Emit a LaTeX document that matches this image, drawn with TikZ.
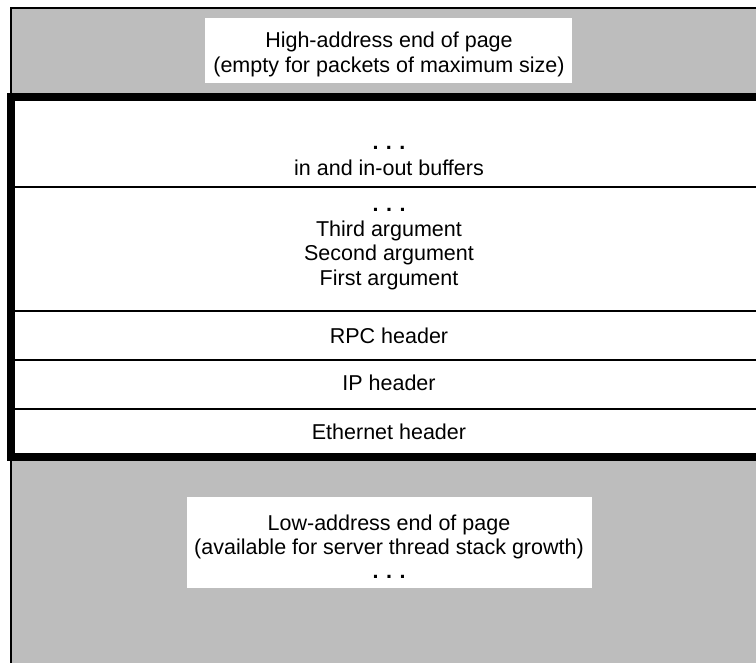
\documentclass[tikz,border=0pt]{standalone}
\usepackage{fontspec}
\setmainfont{Liberation Sans}
\tikzset{
  shade/.style={fill=black!26, draw=none},
  whitebox/.style={fill=white, draw=none, inner sep=0pt},
  label/.style={align=center, inner sep=0pt, font=\fontsize{21.5}{24}\selectfont},
  thin/.style={line width=2pt},
  thick/.style={line width=7.5pt, line join=miter},
}
\newcommand{\threedots}{\textbf{.\hspace{0.35em}.\hspace{0.35em}.}}
\begin{document}
\begin{tikzpicture}[x=1pt,y=-1pt]
\useasboundingbox (0,0) rectangle (756,663);
% shaded page
\fill[shade] (11,8) rectangle (756,663);
% packet area
\fill[white] (11,97) rectangle (756,457);
% white label boxes
\node[whitebox, minimum width=367pt, minimum height=65pt] (hibox) at (388.5,50.5) {};
\node[whitebox, minimum width=405pt, minimum height=91pt] (lobox) at (389.5,542.5) {};
% outer thin border
\coordinate (tl) at (11,8);
\coordinate (tr) at (756,8);
\coordinate (bl) at (11,663);
\draw[thin] (tr) -- (tl) -- (bl);
% row separators
\foreach \yy/\nm in {187/s1,311/s2,360/s3,409/s4}{
  \coordinate (\nm l) at (11,\yy);
  \coordinate (\nm r) at (756,\yy);
  \draw[thin] (\nm l) -- (\nm r);
}
% thick packet frame
\coordinate (p1) at (756,97);
\coordinate (p2) at (11,97);
\coordinate (p3) at (11,457);
\coordinate (p4) at (756,457);
\draw[thick] (p1) -- (p2) -- (p3) -- (p4);
% labels
\node[label, font=\fontsize{21.5}{25}\selectfont] (hi) at (389,54) {High-address end of page\\(empty for packets of maximum size)};
\node[label, font=\fontsize{21.5}{26}\selectfont] (buf) at (389,161) {\threedots\\in and in-out buffers};
\node[label, font=\fontsize{21.5}{24.5}\selectfont] (args) at (389,249) {\threedots\\Third argument\\Second argument\\First argument};
\node[label] (rpc) at (389,336) {RPC header};
\node[label] (ip) at (389,383) {IP header};
\node[label] (eth) at (389,432) {Ethernet header};
\node[label] (lo) at (389,547) {Low-address end of page\\(available for server thread stack growth)\\\threedots};
\end{tikzpicture}
\end{document}
